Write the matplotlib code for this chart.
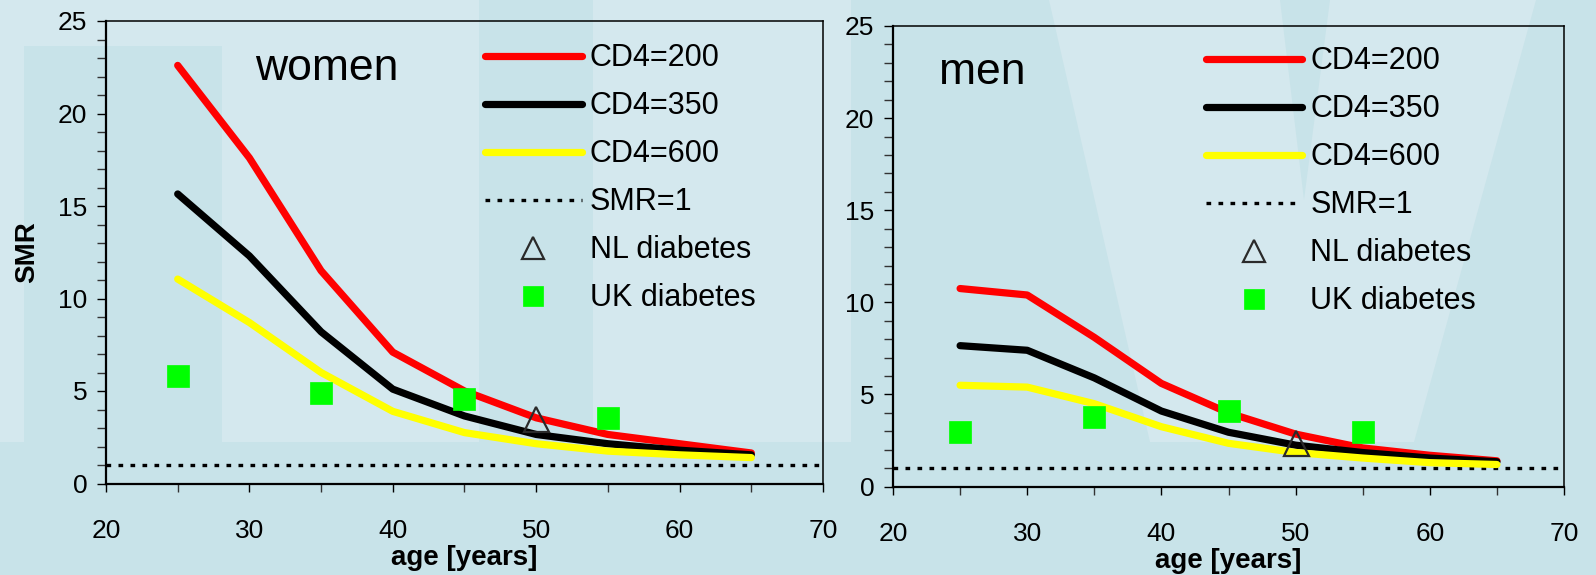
import matplotlib
matplotlib.use('Agg')
import matplotlib.pyplot as plt
from matplotlib.patches import Polygon
from matplotlib.ticker import MultipleLocator

plt.rcParams['font.family'] = ['Liberation Sans', 'DejaVu Sans']

# ---------------- data ----------------
ages = [25, 30, 35, 40, 45, 50, 55, 60, 65]
women_cd4_200 = [22.6, 17.6, 11.5, 7.1, 5.0, 3.55, 2.65, 2.15, 1.65]
women_cd4_350 = [15.65, 12.3, 8.2, 5.1, 3.65, 2.65, 2.15, 1.8, 1.55]
women_cd4_600 = [11.05, 8.7, 6.0, 3.9, 2.75, 2.15, 1.75, 1.55, 1.4]
men_cd4_200 = [10.75, 10.4, 8.1, 5.6, 4.0, 2.85, 2.1, 1.7, 1.4]
men_cd4_350 = [7.65, 7.4, 5.9, 4.1, 2.95, 2.25, 1.85, 1.55, 1.35]
men_cd4_600 = [5.5, 5.4, 4.5, 3.25, 2.35, 1.85, 1.55, 1.3, 1.2]
uk_ages = [25, 35, 45, 55]
women_uk = [5.8, 4.9, 4.55, 3.55]
men_uk = [2.95, 3.8, 4.1, 2.95]
nl_ages = [50]
women_nl = [3.5]
men_nl = [2.35]
smr_ref = 1
x_ticks = [20, 30, 40, 50, 60, 70]
y_ticks = [0, 5, 10, 15, 20, 25]
series_labels = ['CD4=200', 'CD4=350', 'CD4=600', 'SMR=1', 'NL diabetes', 'UK diabetes']
panel_titles = ['women', 'men']

# ---------------- figure & background decoration ----------------
W, H = 1596, 575
fig = plt.figure(figsize=(W / 100, H / 100), dpi=100)
dark_bg = '#C8E3E9'
light_bg = '#D4E8EE'
fig.patch.set_facecolor(dark_bg)

bg = fig.add_axes([0, 0, 1, 1], zorder=-5)
bg.set_xlim(0, W)
bg.set_ylim(H, 0)
bg.axis('off')


def fpoly(pts, color):
    bg.add_patch(Polygon(pts, closed=True, facecolor=color, edgecolor='none'))


fpoly([(0, 0), (479, 0), (479, 442), (0, 442)], light_bg)
fpoly([(24, 46), (222, 46), (222, 442), (24, 442)], dark_bg)
fpoly([(593, 0), (851, 0), (851, 442), (593, 442)], light_bg)
fpoly([(1049, 0), (1536, 0), (1414, 442), (1150, 442)], light_bg)
fpoly([(1280, 0), (1330, 0), (1304, 200)], dark_bg)

ax1 = fig.add_axes([106 / W, 1 - 483.5 / H, 717 / W, 462.5 / H])
ax2 = fig.add_axes([893 / W, 1 - 486.6 / H, 671 / W, 460.6 / H])


def draw_panel(ax, c200, c350, c600, uk, nl, title, title_x, title_y, leg_x, leg_y, ylabel):
    ax.set_facecolor('none')
    lw = 5.2
    ax.plot(ages, c200, color='#FF0000', lw=lw, solid_capstyle='round', solid_joinstyle='round',
            label=series_labels[0], zorder=3)
    ax.plot(ages, c350, color='#000000', lw=lw, solid_capstyle='round', solid_joinstyle='round',
            label=series_labels[1], zorder=3)
    ax.plot(ages, c600, color='#FFFF00', lw=lw, solid_capstyle='round', solid_joinstyle='round',
            label=series_labels[2], zorder=3)
    ax.axhline(smr_ref, color='black', lw=2.4, linestyle=(0, (1.4, 2.2)),
               dash_capstyle='butt', label=series_labels[3], zorder=2)
    ax.plot(nl_ages, nl, linestyle='none', marker='^', ms=18, mfc='none', mec='#2a2a2a',
            mew=1.6, label=series_labels[4], zorder=5)
    ax.plot(uk_ages, uk, linestyle='none', marker='s', ms=16.5, mfc='#00FF00', mec='#00FF00',
            mew=0.5, label=series_labels[5], zorder=4)

    ax.set_xlim(20, 70)
    ax.set_ylim(0, 25)
    ax.set_xticks(x_ticks)
    ax.xaxis.set_minor_locator(MultipleLocator(5))
    ax.set_yticks(y_ticks)
    ax.yaxis.set_minor_locator(MultipleLocator(1))
    ax.tick_params(axis='x', which='both', direction='out', length=5.5, width=1.0,
                   labelsize=19, pad=20, colors='black')
    ax.tick_params(axis='y', which='both', direction='out', length=6.2, width=1.0,
                   labelsize=19, pad=7.3, colors='black')
    ax.tick_params(axis='both', which='minor', color='#333333')
    for s in ax.spines.values():
        s.set_linewidth(1.1)
        s.set_color('black')
    ax.spines['left'].set_linewidth(1.6)
    ax.spines['bottom'].set_linewidth(1.6)

    ax.set_xlabel('age [years]', fontsize=20, fontweight='bold', labelpad=1.7)
    if ylabel:
        ax.set_ylabel('SMR', fontsize=20, fontweight='bold', labelpad=12.6)

    ax.text(title_x, title_y, title, transform=ax.transAxes, fontsize=32,
            ha='left', va='baseline')

    ax.legend(loc='upper left', bbox_to_anchor=(leg_x, leg_y), frameon=False,
              fontsize=22, handlelength=3.15, handletextpad=0.27, labelspacing=0.59,
              borderpad=0, borderaxespad=0, markerscale=0.85, numpoints=1)


draw_panel(ax1, women_cd4_200, women_cd4_350, women_cd4_600, women_uk, women_nl,
           panel_titles[0], 0.208, 0.872, 0.529, 0.952, True)
draw_panel(ax2, men_cd4_200, men_cd4_350, men_cd4_600, men_uk, men_nl,
           panel_titles[1], 0.069, 0.874, 0.466, 0.956, False)

fig.savefig('out.png', dpi=100, facecolor=fig.get_facecolor())
